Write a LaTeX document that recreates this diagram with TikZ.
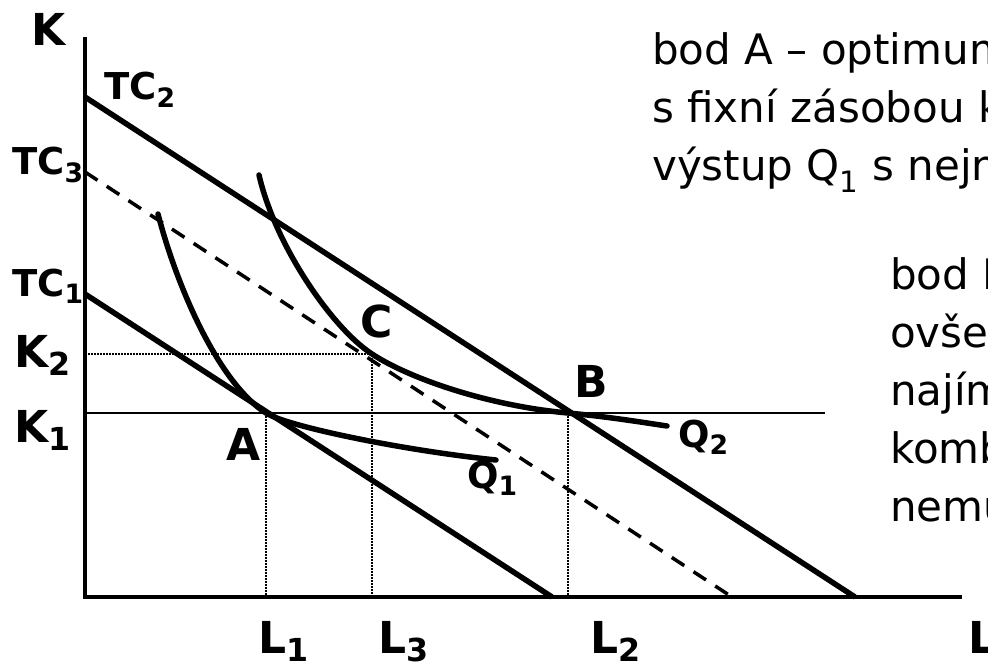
\documentclass[tikz,border=0pt]{standalone}
\usepackage{fontspec}
\usepackage{graphicx}
\setmainfont{DejaVu Sans}
\usetikzlibrary{positioning}

% dolni index
\newcommand{\idx}[1]{\raisebox{-0.2em}{\scalebox{0.72}{#1}}}

\tikzset{
  osa/.style={line width=3.5pt},
  nakl/.style={line width=5.5pt},
  izokv/.style={line width=5.5pt, line cap=round},
  carkov/.style={line width=3.5pt, dash pattern=on 15pt off 11pt},
  tecky/.style={line width=1.8pt, dash pattern=on 1.5pt off 1.5pt},
  velky/.style={font=\fontsize{44}{50}\selectfont\bfseries, inner sep=0pt, anchor=base west},
  maly/.style={font=\fontsize{37}{42}\selectfont\bfseries, inner sep=0pt, anchor=base west},
  komentar/.style={font=\fontsize{42}{58}\selectfont, inner sep=0pt, anchor=north west, align=left}
}

\begin{document}
\begin{tikzpicture}[x=1pt, y=-1pt]
        \useasboundingbox (0,0) rectangle (988,666);
        \clip (0,0) rectangle (988,666);
        \fill[white] (0,0) rectangle (988,666);

        % osy
        \coordinate (O) at (85,597);
        \coordinate (Ktop) at (85,37);
        \coordinate (Lend) at (962,597);
        \draw[osa] (Ktop) -- (O) -- (Lend);

        % body
        \coordinate (A) at (266,413);
        \coordinate (B) at (568,413);
        \coordinate (C) at (372,354);
        \coordinate (K1) at (85,413);
        \coordinate (K2) at (85,354);
        \coordinate (K1end) at (825,413);
        \coordinate (L1) at (266,597);
        \coordinate (L2) at (568,597);
        \coordinate (L3) at (372,597);

        % pomocne cary
        \draw[line width=2pt] (K1) -- (K1end);
        \draw[tecky] (K2) -- (C) -- (L3);
        \draw[tecky] (A) -- (L1);
        \draw[tecky] (B) -- (L2);

        % izonakladove primky
        \coordinate (TC1a) at (85,294);
        \coordinate (TC1b) at (552,597);
        \coordinate (TC2a) at (85,97);
        \coordinate (TC2b) at (855,597);
        \coordinate (TC3a) at (85,172);
        \coordinate (TC3b) at (732,597);
        \draw[nakl] (TC1a) -- (TC1b);
        \draw[nakl] (TC2a) -- (TC2b);
        \draw[carkov] (TC3a) -- (TC3b);

        % izokvanty
        \coordinate (Q1a) at (158,214);
        \coordinate (Q1b) at (496,460);
        \coordinate (Q2a) at (259,175);
        \coordinate (Q2b) at (667,426);
        \draw[izokv] (Q1a) .. controls (175,280) and (216,381) .. (A)
                           .. controls (286,426) and (400,450) .. (Q1b);
        \draw[izokv] (Q2a) .. controls (275,245) and (332,328) .. (C)
                           .. controls (410,379) and (490,406) .. (B)
                           .. controls (610,417) and (640,422) .. (Q2b);

        % popisky os
        \node[velky] (lK) at (31,46) {K};
        \node[velky] (lL) at (968,653) {L};
        \node[velky] (lK1) at (14,442) {K\idx{1}};
        \node[velky] (lK2) at (14,367) {K\idx{2}};
        \node[velky] (lL1) at (258,653) {L\idx{1}};
        \node[velky] (lL3) at (378,653) {L\idx{3}};
        \node[velky] (lL2) at (590,653) {L\idx{2}};
        \node[maly] (lTC1) at (12,296) {TC\idx{1}};
        \node[maly] (lTC2) at (104,100) {TC\idx{2}};
        \node[maly] (lTC3) at (12,175) {TC\idx{3}};

        % popisky bodu
        \node[velky] (lA) at (226,460) {A};
        \node[velky] (lB) at (574,397) {B};
        \node[velky] (lC) at (360,337) {C};
        \node[maly] (lQ1) at (467,488) {Q\idx{1}};
        \node[maly] (lQ2) at (678,447) {Q\idx{2}};

        % komentare
        \node[komentar] (popA) at (652,32) {bod A – optimum pro\\ s fixní zásobou kapitálu\\ výstup Q\textsubscript{1} s nejnižšími};
        \node[komentar] (popB) at (890,257) {bod B –\\ ovšem\\ najímá\\ kombinace\\ nemusí};
    \end{tikzpicture}
\end{document}
